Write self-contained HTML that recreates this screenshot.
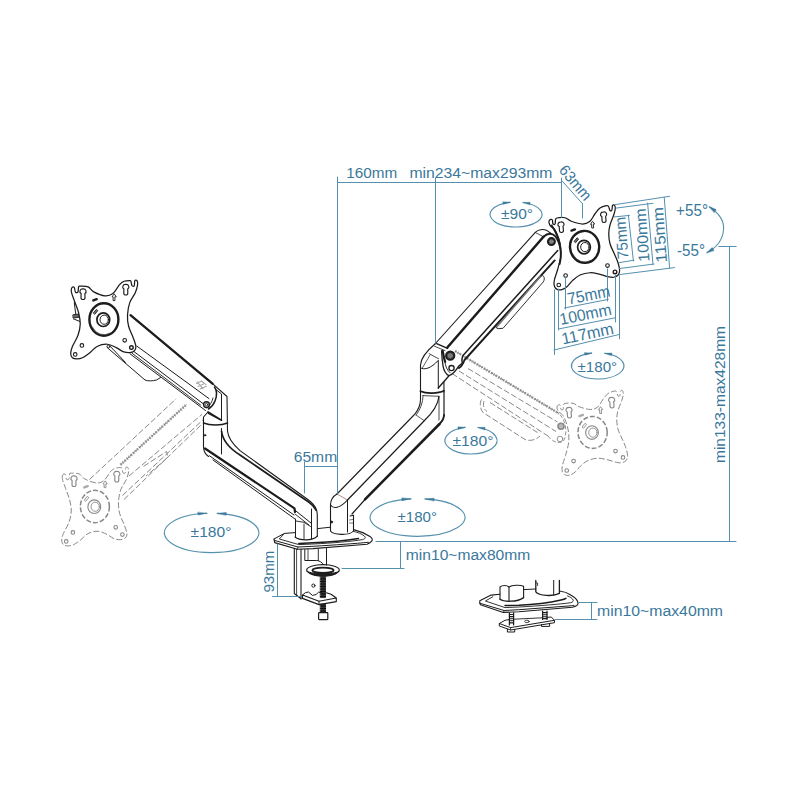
<!DOCTYPE html>
<html lang="en"><head><meta charset="utf-8"><title>Dual monitor arm dimensions</title>
<style>
html,body{margin:0;padding:0;background:#fff;}
body{width:800px;height:800px;overflow:hidden;}
svg{display:block;}
svg text{font-family:"Liberation Sans",sans-serif;}
</style></head><body>
<svg width="800" height="800" viewBox="0 0 800 800" stroke-linecap="round" stroke-linejoin="round">
<rect x="0" y="0" width="800" height="800" fill="#ffffff"/>
<g id="ghost">
<line x1="89.5" y1="479.5" x2="176.1" y2="398.8" stroke="#888888" stroke-width="1.0" stroke-dasharray="6 2.4" stroke-linecap="butt"/>
<line x1="120.5" y1="464.8" x2="186.5" y2="404.5" stroke="#a4a4a4" stroke-width="2.8" stroke-dasharray="1.5 1.3" stroke-linecap="butt"/>
<line x1="120.5" y1="464.8" x2="186.5" y2="404.5" stroke="#7a7a7a" stroke-width="1.0" stroke-dasharray="3 1.2" stroke-linecap="butt"/>
<line x1="129" y1="476" x2="202.1" y2="414.3" stroke="#888888" stroke-width="1.0" stroke-dasharray="6 2.4" stroke-linecap="butt"/>
<line x1="122.5" y1="495.5" x2="203.7" y2="419.1" stroke="#888888" stroke-width="1.0" stroke-dasharray="6 2.4" stroke-linecap="butt"/>
<line x1="124" y1="499.5" x2="201" y2="425" stroke="#888888" stroke-width="1.0" stroke-dasharray="6 2.4" stroke-linecap="butt"/>
<path d="M143.6,466.3 L166.4,451.6 C168,454 167.5,457.5 165,460 L146,476" stroke="#888888" stroke-width="1.0" fill="none" stroke-dasharray="6 2.4" stroke-linecap="butt"/>
<line x1="455" y1="351" x2="559" y2="413.5" stroke="#a4a4a4" stroke-width="2.8" stroke-dasharray="1.5 1.3" stroke-linecap="butt"/>
<line x1="455" y1="351" x2="559" y2="413.5" stroke="#7a7a7a" stroke-width="1.0" stroke-dasharray="3 1.2" stroke-linecap="butt"/>
<line x1="452" y1="373.5" x2="548" y2="436" stroke="#888888" stroke-width="1.0" stroke-dasharray="6 2.4" stroke-linecap="butt"/>
<line x1="459" y1="371" x2="556" y2="431.5" stroke="#888888" stroke-width="1.0" stroke-dasharray="6 2.4" stroke-linecap="butt"/>
<line x1="468" y1="368.5" x2="557.5" y2="422" stroke="#888888" stroke-width="1.0" stroke-dasharray="6 2.4" stroke-linecap="butt"/>
<path d="M481.5,399.5 C479.5,403 480,409 483,412.5 L525,439.5 C530,441.5 536,440 540,436" stroke="#888888" stroke-width="1.0" fill="none" stroke-dasharray="6 2.4" stroke-linecap="butt"/>
<path d="M484,401 C482.5,405 484,409.5 487,411.5 M490,402.5 L537.5,432.5" stroke="#888888" stroke-width="1.0" fill="none" stroke-dasharray="6 2.4" stroke-linecap="butt"/>
<circle cx="561" cy="426.3" r="3" stroke="#888888" stroke-width="1.6" fill="#bbb"/>
<circle cx="560" cy="439" r="2.8" stroke="#888888" stroke-width="0.9" fill="none"/>
<path d="M548,436 C552,441.5 558,444 563,441.5 C566,438 566.5,430 565,424 C563.5,419 560.5,415 559,413.5" stroke="#888888" stroke-width="0.9" fill="none" stroke-dasharray="4 2" stroke-linecap="butt"/>
</g>
<g id="arms">
<path d="M107,347.3 L110,350 L145,380 C147.5,381.3 153,381 156.5,380 L160.5,377.6" stroke="#1c1c1c" stroke-width="1.0" fill="none" />
<path d="M110.2,346.5 L113,349.2 L125.5,362.5" stroke="#1c1c1c" stroke-width="1.0" fill="none" />
<circle cx="108.5" cy="346.4" r="1.4" stroke="#1c1c1c" stroke-width="0.9" fill="none" />
<path d="M130.5,315.2 L212.5,383.7" stroke="#1c1c1c" stroke-width="2.3" fill="none" />
<path d="M137,346.2 L209,398.6" stroke="#1c1c1c" stroke-width="1.0" fill="none" />
<path d="M134.5,352 L203,403.6" stroke="#1c1c1c" stroke-width="1.0" fill="none" />
<path d="M132,353.2 L200.5,405" stroke="#1c1c1c" stroke-width="0.9" fill="none" />
<path d="M130,353.8 L205.5,410.5" stroke="#1c1c1c" stroke-width="1.0" fill="none" />
<path d="M196.5,383.5 L201.5,381 L206,384.6 M198,386.5 L203.5,384 M200,389 L206.5,386.2 M197,381.8 L203,388.6" stroke="#a8a8a8" stroke-width="1.1" fill="none" />
<path d="M212.5,383.7 L227,396.5 L227.5,431 C228,438 233,444.3 240,450.6 L307.5,499.3 C313.5,503.5 317.3,508.5 317.3,514.5 L317.3,536" stroke="#1c1c1c" stroke-width="1.1" fill="none" />
<path d="M214.5,387 C217,390.5 217,396 215,401 C213.5,404.8 211,407.5 208.5,409" stroke="#1c1c1c" stroke-width="1.5" fill="none" />
<path d="M213,398 C212,402 210,405.5 207,408" stroke="#1c1c1c" stroke-width="0.9" fill="none" />
<circle cx="206.5" cy="404.6" r="2.9" stroke="#1c1c1c" stroke-width="1.4" fill="none" />
<circle cx="206.5" cy="404.6" r="1.3" stroke="#1c1c1c" stroke-width="0.9" fill="none" />
<path d="M216.5,390 L221.5,394 L221.5,420.5" stroke="#1c1c1c" stroke-width="1.0" fill="none" />
<path d="M208,412 L221.5,420.2 L208.6,413.2 Z" stroke="#1c1c1c" stroke-width="1.6" fill="none" />
<path d="M208,412 L203.5,417 L203.5,447 C203.7,451 205.5,454.5 208.5,456.5" stroke="#1c1c1c" stroke-width="1.1" fill="none" />
<path d="M203.5,423 C210,425.6 221,425.8 227.5,423" stroke="#1c1c1c" stroke-width="1.6" fill="none" />
<circle cx="205" cy="435.3" r="0.8" stroke="#1c1c1c" stroke-width="0.8" fill="#1c1c1c" />
<path d="M221.5,428.5 L221.5,454" stroke="#1c1c1c" stroke-width="1.0" fill="none" />
<path d="M221.5,431 C222.5,440 228,447.5 240,455 L309,502.3 C312,504.4 314.5,507 316,510" stroke="#1c1c1c" stroke-width="1.7" fill="none" />
<path d="M205,448.5 L294.5,508.3 L295,512" stroke="#1c1c1c" stroke-width="2.2" fill="none" />
<path d="M209.5,455.8 L294,515" stroke="#1c1c1c" stroke-width="1.0" fill="none" />
<path d="M213,460 L295,519" stroke="#1c1c1c" stroke-width="1.0" fill="none" />
<path d="M295,510.3 L311,523" stroke="#1c1c1c" stroke-width="1.0" fill="none" />
<path d="M295,514 L309,525" stroke="#1c1c1c" stroke-width="0.9" fill="none" />
<path d="M311.5,509 L311.5,539" stroke="#1c1c1c" stroke-width="1.0" fill="none" />
<path d="M295.5,519 L295.5,537" stroke="#1c1c1c" stroke-width="1.0" fill="none" />
<path d="M304,524 L304,539" stroke="#1c1c1c" stroke-width="0.9" fill="none" />
<path d="M296,521 L304,522.3 L310.5,526.5" stroke="#1c1c1c" stroke-width="0.9" fill="none" />
<path d="M295,537 C299,540.5 312,541.5 317.5,536" stroke="#1c1c1c" stroke-width="1.1" fill="none" />
<path d="M337,494 C333.5,496 330.5,500 330.5,505 L330.5,531 C333,535 349,536 353.5,531 L353.5,515.3 L350,516" stroke="#1c1c1c" stroke-width="1.1" fill="none" />
<path d="M330.5,505 C333,509 340,508.5 347.5,500" stroke="#1c1c1c" stroke-width="1.1" fill="none" />
<path d="M337,494 L347.5,500" stroke="#8a5a50" stroke-width="0.7" fill="none" />
<path d="M347.5,500 L347.5,532" stroke="#1c1c1c" stroke-width="1.0" fill="none" />
<circle cx="331.6" cy="522" r="1.0" stroke="#1c1c1c" stroke-width="0.8" fill="#1c1c1c" />
<path d="M349.5,520 L353.5,519.3 M349.5,523 L353.5,523" stroke="#1c1c1c" stroke-width="0.6" fill="none" />
<path d="M337,494 L414,415 C418,410.5 420.5,405 420.5,399.5 L420.5,365 C420.8,358.5 426,351.5 435,344" stroke="#1c1c1c" stroke-width="1.1" fill="none" />
<path d="M347.5,500 L424,421 C431,414.5 438,405.5 439,396.3" stroke="#1c1c1c" stroke-width="1.2" fill="none" />
<path d="M416,415 L424,420.5" stroke="#1c1c1c" stroke-width="0.7" fill="none" />
<path d="M423,395.5 C423,402 420.5,409.5 416,415" stroke="#1c1c1c" stroke-width="0.8" fill="none" />
<path d="M423,395.6 L439,396.3 L439,420" stroke="#1c1c1c" stroke-width="0.8" fill="none" />
<path d="M352,514 L365,499.5" stroke="#1c1c1c" stroke-width="1.2" fill="none" />
<path d="M365,499.3 L439.5,424" stroke="#1c1c1c" stroke-width="2.5" fill="none" />
<path d="M439.5,424 C442.5,421 444,418.5 444,415" stroke="#1c1c1c" stroke-width="1.9" fill="none" />
<path d="M444,415 L444,392" stroke="#1c1c1c" stroke-width="1.2" fill="none" />
<path d="M420.5,391.3 C426,393.8 438,393.8 444,390.8" stroke="#1c1c1c" stroke-width="1.8" fill="none" />
<path d="M444,392 L443.9,382" stroke="#1c1c1c" stroke-width="1.1" fill="none" />
<path d="M420.6,367.8 C424,370.3 431,368.6 438.3,360.3 L438.3,388.5" stroke="#1c1c1c" stroke-width="1.0" fill="none" />
<path d="M429.2,353.7 L438.6,358.8" stroke="#1c1c1c" stroke-width="0.8" fill="none" />
<path d="M422.6,367.6 L430,355" stroke="#1c1c1c" stroke-width="0.7" fill="none" />
<path d="M438.3,388 L448.8,376" stroke="#1c1c1c" stroke-width="1.3" fill="none" />
<path d="M436.7,343.7 L447.5,348.4" stroke="#1c1c1c" stroke-width="1.4" fill="none" />
<path d="M434.6,346.3 L445,350.6" stroke="#1c1c1c" stroke-width="0.8" fill="none" />
<path d="M441.6,351 C441.8,356 442.4,362 443.1,366.3 C443.8,370 446,374 448.8,375.6 C452.5,374.5 456,370.5 458.5,366.3 L463,362.5" stroke="#1c1c1c" stroke-width="1.3" fill="none" />
<path d="M442.6,350.5 C443.5,355 444,359 445.2,361.8" stroke="#1c1c1c" stroke-width="2.2" fill="none" />
<path d="M445,361.8 C445.3,366 447,370.5 450.3,373" stroke="#1c1c1c" stroke-width="0.9" fill="none" />
<circle cx="450.2" cy="355.7" r="4.2" stroke="#1c1c1c" stroke-width="1.9" fill="#444" />
<circle cx="450.2" cy="355.7" r="2.0" stroke="#8a8a8a" stroke-width="0.9" fill="#777" />
<circle cx="451.5" cy="368.1" r="2.6" stroke="#1c1c1c" stroke-width="1.3" fill="#fff" />
<path d="M435,344 L535.3,232.3 C538,229.6 543,228.6 547,230.6 L550.5,233" stroke="#1c1c1c" stroke-width="1.1" fill="none" />
<path d="M535.3,232.5 L543.5,236.8" stroke="#1c1c1c" stroke-width="0.8" fill="none" />
<path d="M447.3,347.5 L543.5,236.8" stroke="#1c1c1c" stroke-width="2.5" fill="none" />
<path d="M543.5,236.8 C546.5,234 550,233.2 553,234.5 C556.5,236.5 558.5,241 560,246.5 C561.3,251 561.8,256 561.3,261 L560,267.5" stroke="#1c1c1c" stroke-width="1.9" fill="none" />
<path d="M462.5,362.8 C461.5,361 461.8,358.5 463,355.5 L557.7,250.5" stroke="#1c1c1c" stroke-width="1.5" fill="none" />
<path d="M459,368 C461.5,366.5 463,364 464.5,360 L554.7,260.4" stroke="#1c1c1c" stroke-width="1.9" fill="none" />
<path d="M496.3,327.5 L540.6,276.2" stroke="#777" stroke-width="1.5" fill="none" />
<path d="M496.3,327.6 L498,328.7 L503,328.3 L543.2,282 C544.6,280 544.6,277.6 543.5,276.2 C542.7,275.3 541.5,275.3 540.6,276.2" stroke="#333" stroke-width="1.0" fill="none" />
<circle cx="551.4" cy="241.6" r="3.6" stroke="#1c1c1c" stroke-width="1.8" fill="#4a4a4a" />
<circle cx="551.4" cy="241.6" r="1.7" stroke="#8a8a8a" stroke-width="0.8" fill="#808080" />
<path d="M274,539 L284.5,533.4 L295.5,532.6" stroke="#1c1c1c" stroke-width="1.0" fill="none" />
<path d="M317.5,528.6 L330.5,527.2" stroke="#1c1c1c" stroke-width="1.0" fill="none" />
<path d="M353.5,529.6 C358,530.6 365,533.4 370,536.5 C372.6,538.2 372.8,540 371.5,541.4 C370.5,542.6 369,543.6 367,544.2 L313,548.6 L297.3,549.3 L274.7,542.6 L274,539" stroke="#1c1c1c" stroke-width="1.15" fill="none" />
<path d="M274.4,540.4 L298,547 L313,546.3 C335,545 355,543.6 368.5,542.3" stroke="#1c1c1c" stroke-width="1.0" fill="none" />
<path d="M284.5,533.4 L279.3,539 L298.8,544.6 L313,544 C333,543 352,541.4 362.5,539.6 C365,539 366,537.6 364.5,536.2 C362,534 358,532.3 353.5,531.4" stroke="#1c1c1c" stroke-width="0.9" fill="none" />
<path d="M298.8,543.4 L313,542.8 C330,541.8 348,540.2 358.5,538.4" stroke="#1c1c1c" stroke-width="1.5" fill="none" />
<path d="M298,547 L297.5,549.3" stroke="#1c1c1c" stroke-width="0.8" fill="none" />
<path d="M294.3,548.4 L294.3,593.5 L301,598.8" stroke="#1c1c1c" stroke-width="1.1" fill="none" />
<path d="M296.6,549 L296.6,595" stroke="#1c1c1c" stroke-width="0.8" fill="none" />
<path d="M301,549.4 L301,598.8" stroke="#1c1c1c" stroke-width="1.1" fill="none" />
<path d="M304.8,549.6 L304.8,560.5 L316.8,560.5 C319.5,560.8 322,562.2 323.5,564.6" stroke="#1c1c1c" stroke-width="1.0" fill="none" />
<path d="M308,549.6 L308,560.3" stroke="#1c1c1c" stroke-width="0.8" fill="none" />
<path d="M318.3,549 L318.3,560.6" stroke="#1c1c1c" stroke-width="0.9" fill="none" />
<path d="M326.5,548.6 L326.5,565" stroke="#1c1c1c" stroke-width="1.0" fill="none" />
<path d="M307.2,571.4 C309.5,574.6 315.5,576.2 323,576.2 C330.5,576.2 336.5,574.6 338.8,571.4 C336,573 330,573.6 323,573.6 C316,573.6 310,573 307.2,571.4 Z" stroke="#1c1c1c" stroke-width="1.0" fill="#2e2e2e" />
<ellipse cx="323" cy="569.9" rx="16.3" ry="5.2" stroke="#1c1c1c" stroke-width="1.2" fill="none" />
<ellipse cx="323" cy="570.3" rx="10.6" ry="2.7" stroke="#1c1c1c" stroke-width="1.9" fill="#fff" />
<path d="M320.6,576.6 L325.5,576.6 L325.5,597.6 L320.6,597.6 Z" stroke="#1c1c1c" stroke-width="0.7" fill="#333" />
<path d="M320.6,604 L325.5,604 L325.5,612.7 L320.6,612.7 Z" stroke="#1c1c1c" stroke-width="0.7" fill="#333" />
<path d="M320.6,579 h4.9 M320.6,581.5 h4.9 M320.6,584 h4.9 M320.6,586.5 h4.9 M320.6,589 h4.9 M320.6,591.5 h4.9 M320.6,594 h4.9 M320.6,596.5 h4.9 M320.6,606 h4.9 M320.6,608.5 h4.9 M320.6,611 h4.9" stroke="#0c0c0c" stroke-width="1.2" fill="none" />
<path d="M319.2,612.7 h8 q0.6,0 0.6,0.8 v5.2 q0,0.9 -0.8,0.9 h-7.6 q-0.8,0 -0.8,-0.9 v-5.2 q0,-0.8 0.6,-0.8 Z" stroke="#1c1c1c" stroke-width="1.2" fill="#fff" />
<path d="M302.5,595 L305.5,592.6 L308.5,592 L312.5,595.4 L316,594.6 L318.5,592.2 L321.4,592.6" stroke="#1c1c1c" stroke-width="1.0" fill="none" />
<path d="M326.4,592.8 L331,594.2 L336.3,598 L336.3,601.6 L319,604.6 L302.5,598.4 L302.5,595 L319,601.2 L336.3,598" stroke="#1c1c1c" stroke-width="1.15" fill="none" />
<path d="M319,601.2 L319,604.6" stroke="#1c1c1c" stroke-width="0.9" fill="none" />
<circle cx="313.4" cy="585.6" r="1.6" stroke="#1c1c1c" stroke-width="1.0" fill="none" />
<path d="M500,594.3 L491.1,595.1 L479.8,600.8 L479.8,603.2 L480.5,604.8 L503.3,612.4 L518.8,611.8 L572.4,607.3 C576,606.5 578.3,605 578,603.2 C578,600.5 575,597.5 570.8,595 C568,593 564,591.5 559.4,591" stroke="#1c1c1c" stroke-width="1.1" fill="none" />
<path d="M523.6,589.6 L535.8,589" stroke="#1c1c1c" stroke-width="1.0" fill="none" />
<path d="M479.8,603.2 L504.1,610.5 L518.8,609.7 L574,605.6" stroke="#1c1c1c" stroke-width="1.0" fill="none" />
<path d="M492.8,596.7 L485.4,601 L505,607.6 L518.8,607 C540,605.8 560,604.2 570.8,602.7 C573,602 573.6,600.8 573.2,600 C572,598 570,596.8 567.5,595.9" stroke="#1c1c1c" stroke-width="0.9" fill="none" />
<path d="M505,605.6 L518.8,605.3 C535,604.5 552,602 561,600 C563.5,599.5 565,599 565.9,598.3" stroke="#1c1c1c" stroke-width="1.5" fill="none" />
<path d="M504.1,610.5 L503.5,612.4" stroke="#1c1c1c" stroke-width="0.8" fill="none" />
<path d="M500,599.2 L500,587 C502,585 507,585 509,587 L509,600.3" stroke="#1c1c1c" stroke-width="1.1" fill="none" />
<path d="M509,587 C512,585 520,584.8 523.6,586.2 L523.6,597.6" stroke="#1c1c1c" stroke-width="1.1" fill="none" />
<path d="M500,599.2 C504,602 517,602.3 523.6,597.6" stroke="#1c1c1c" stroke-width="1.3" fill="none" />
<path d="M535.8,580.4 L535.8,591.8 C539,595.8 553,596.8 559.4,593.4 L559.4,580.4" stroke="#1c1c1c" stroke-width="1.3" fill="none" />
<path d="M553.7,580.4 L553.7,595.2" stroke="#1c1c1c" stroke-width="1.0" fill="none" />
<path d="M536.2,582.8 L537.6,583 L537.6,585.6" stroke="#1c1c1c" stroke-width="0.8" fill="none" />
<path d="M509.4,612.9 L509.4,625 M513.6,612.9 L513.6,625" stroke="#1c1c1c" stroke-width="1.2" fill="none" />
<path d="M509.4,614.5 h4.2 M509.4,616.6 h4.2 M509.4,618.7 h4.2 M509.4,620.8 h4.2 M509.4,622.9 h4.2" stroke="#1c1c1c" stroke-width="1.1" fill="none" />
<path d="M542.6,611 L542.6,619.4 M547,611 L547,619.4" stroke="#1c1c1c" stroke-width="1.2" fill="none" />
<path d="M542.6,612.6 h4.4 M542.6,614.7 h4.4 M542.6,616.8 h4.4 M542.6,618.6 h4.4" stroke="#1c1c1c" stroke-width="1.1" fill="none" />
<path d="M509,619.6 L505,620.3 L499.3,623.5 L499.3,626 L510.6,630 L554.5,622.7 L554.5,620.3 L551.3,617 L547,617.4" stroke="#1c1c1c" stroke-width="1.0" fill="none" />
<path d="M514,619.2 L542.3,617.8" stroke="#1c1c1c" stroke-width="0.9" fill="none" />
<path d="M499.3,623.5 L510.6,627.6 L554.5,620.3" stroke="#1c1c1c" stroke-width="1.0" fill="none" />
<path d="M510.6,627.6 L510.6,630" stroke="#1c1c1c" stroke-width="0.8" fill="none" />
<path d="M507.4,629.2 L507.4,632 L514.7,632 L514.7,629.6" stroke="#1c1c1c" stroke-width="1.0" fill="none" />
<path d="M541.5,624.6 L541.5,626.4 L549.6,626.4 L549.6,623.6" stroke="#1c1c1c" stroke-width="1.0" fill="none" />
<ellipse cx="526.9" cy="621.4" rx="2.3" ry="1.2" stroke="#1c1c1c" stroke-width="0.8" fill="none" />
<path d="M74.3,302.5 C74.6,306 75.2,310 75.8,314 M73.4,318.8 L79.6,321.4" stroke="#1c1c1c" stroke-width="1.0" fill="none" />
<path d="M73.2,314.8 L79.2,314 L79.5,317.2 L73.5,318 Z" stroke="#1c1c1c" stroke-width="0.9" fill="#666" />
<g transform="translate(0 0)" stroke="#1c1c1c" fill="none">
<path d="M71.25,289.70 C71.33,288.63 71.79,287.57 72.30,287.20 C72.81,286.83 73.77,286.65 74.30,287.50 C74.83,288.35 74.88,291.57 75.50,292.30 C76.12,293.03 77.48,292.80 78.00,291.90 C78.52,291.00 78.23,287.85 78.60,286.90 C78.98,285.95 78.67,286.20 80.25,286.20 C81.83,286.20 85.85,285.95 88.10,286.90 C90.35,287.85 90.93,290.40 93.75,291.90 C96.57,293.40 101.81,295.62 105.00,295.90 C108.19,296.18 110.47,295.48 112.90,293.60 C115.33,291.72 117.73,286.66 119.60,284.60 C121.47,282.54 122.41,281.92 124.10,281.25 C125.79,280.58 128.62,280.60 129.75,280.60 C130.88,280.60 130.53,280.39 130.90,281.25 C131.28,282.11 131.44,285.00 132.00,285.75 C132.56,286.50 133.78,286.59 134.25,285.75 C134.72,284.91 134.34,281.54 134.80,280.70 C135.26,279.86 136.53,280.05 137.00,280.70 C137.47,281.35 137.87,282.63 137.60,284.60 C137.33,286.57 136.71,289.50 135.40,292.50 C134.09,295.50 131.07,298.85 129.75,302.60 C128.43,306.35 127.69,311.06 127.50,315.00 C127.31,318.94 127.67,322.50 128.60,326.25 C129.53,330.00 131.88,334.12 133.10,337.50 C134.32,340.88 135.71,344.25 135.90,346.50 C136.09,348.75 135.28,349.97 134.25,351.00 C133.22,352.03 131.62,352.60 129.75,352.70 C127.88,352.80 125.25,352.45 123.00,351.60 C120.75,350.75 118.88,348.83 116.25,347.60 C113.62,346.38 110.44,344.43 107.25,344.25 C104.06,344.07 100.10,345.00 97.10,346.50 C94.10,348.00 91.68,351.38 89.25,353.25 C86.82,355.12 84.56,356.81 82.50,357.75 C80.44,358.69 78.58,358.90 76.90,358.90 C75.22,358.90 73.43,358.69 72.40,357.75 C71.37,356.81 70.70,355.12 70.70,353.25 C70.70,351.38 71.18,349.50 72.40,346.50 C73.62,343.50 76.69,339.00 78.00,335.25 C79.31,331.50 80.15,327.75 80.25,324.00 C80.35,320.25 79.54,316.50 78.60,312.75 C77.66,309.00 75.73,304.69 74.60,301.50 C73.47,298.31 72.36,295.57 71.80,293.60 C71.24,291.63 71.17,290.77 71.25,289.70Z" stroke-width="1.25" fill="#fff" />
<ellipse cx="103.9" cy="319.5" rx="14.5" ry="16.2" stroke-width="2.4" transform="rotate(0 103.9 319.5)" />
<path d="M92.4,327.0 A12.7,14.4 0 0 0 109.9,333.1" stroke-width="0.7" stroke="#444"/>
<ellipse cx="103.30000000000001" cy="319.7" rx="6.4" ry="6.8" stroke-width="1.7"/>
<ellipse cx="104.2" cy="319.7" rx="4.2" ry="4.6" stroke-width="1.0"/>
<circle cx="81.9" cy="345.4" r="1.8" stroke-width="1.1" fill="#fff"/>
<circle cx="75.2" cy="354.4" r="1.8" stroke-width="1.1" fill="#fff"/>
<circle cx="124.7" cy="340.3" r="1.8" stroke-width="1.1" fill="#fff"/>
<circle cx="131.4" cy="347.6" r="1.8" stroke-width="1.4" fill="#fff"/>
<path d="M81.10,293.40 C78.80,292.10 80.00,288.70 83.00,288.90 C86.00,288.70 87.20,292.10 84.90,293.40 L85.00,297.70 C85.00,300.10 81.00,300.10 81.00,297.70 Z" stroke-width="1.15" transform="rotate(0 83 294.3)"/>
<path d="M123.90,288.90 C121.60,287.60 122.80,284.20 125.80,284.40 C128.80,284.20 130.00,287.60 127.70,288.90 L127.80,293.20 C127.80,295.60 123.80,295.60 123.80,293.20 Z" stroke-width="1.15" transform="rotate(0 125.8 289.8)"/>
<path d="M114,294.20000000000005 l-1.9,2.6 h1 v3.8 h1.8 v-3.8 h1 Z" stroke-width="0.9" transform="rotate(0 114 297.6)"/>
<path d="M93.30000000000001,300.40000000000003 l3.4,-1.2" stroke-width="2.4" stroke="#1c1c1c"/>
<path d="M93.5,312.8 l2.8,-3.4 l1.5,1.2 l-2.8,3.4 Z" stroke-width="0.9" fill="#777"/>
</g>
<g transform="translate(0 0)" stroke="#1c1c1c" fill="none">
<path d="M549.00,222.60 C548.82,221.58 549.08,220.65 549.50,220.10 C549.92,219.55 550.98,219.22 551.50,219.30 C552.02,219.38 552.40,219.93 552.60,220.60 C552.80,221.27 552.48,222.65 552.70,223.30 C552.92,223.95 553.48,224.45 553.90,224.50 C554.32,224.55 554.93,224.38 555.20,223.60 C555.47,222.82 555.20,220.73 555.50,219.80 C555.80,218.87 555.42,218.34 557.00,218.00 C558.58,217.66 562.62,217.21 565.00,217.75 C567.38,218.29 568.33,220.21 571.25,221.25 C574.17,222.29 579.38,224.00 582.50,224.00 C585.62,224.00 587.92,222.96 590.00,221.25 C592.08,219.54 593.33,215.94 595.00,213.75 C596.67,211.56 598.12,209.46 600.00,208.10 C601.88,206.74 604.83,205.91 606.25,205.60 C607.67,205.29 607.88,205.42 608.50,206.25 C609.12,207.08 609.43,209.97 610.00,210.60 C610.57,211.22 611.48,210.83 611.90,210.00 C612.32,209.17 612.08,206.40 612.50,205.60 C612.92,204.80 613.94,204.67 614.40,205.20 C614.86,205.72 615.36,207.12 615.25,208.75 C615.14,210.38 614.62,212.29 613.75,215.00 C612.88,217.71 610.83,221.88 610.00,225.00 C609.17,228.12 608.75,230.62 608.75,233.75 C608.75,236.88 609.17,240.62 610.00,243.75 C610.83,246.88 612.50,249.58 613.75,252.50 C615.00,255.42 616.52,258.33 617.50,261.25 C618.48,264.17 619.50,267.71 619.60,270.00 C619.70,272.29 619.08,273.79 618.10,275.00 C617.12,276.21 615.31,276.93 613.75,277.25 C612.19,277.57 611.04,277.38 608.75,276.90 C606.46,276.42 603.12,275.09 600.00,274.40 C596.88,273.71 593.33,272.65 590.00,272.75 C586.67,272.85 582.92,273.69 580.00,275.00 C577.08,276.31 574.58,278.73 572.50,280.60 C570.42,282.48 569.17,284.78 567.50,286.25 C565.83,287.72 564.17,288.84 562.50,289.40 C560.83,289.96 558.85,290.12 557.50,289.60 C556.15,289.08 554.92,287.85 554.40,286.25 C553.88,284.65 553.88,282.71 554.40,280.00 C554.92,277.29 556.47,273.75 557.50,270.00 C558.53,266.25 560.08,261.25 560.60,257.50 C561.12,253.75 560.91,250.62 560.60,247.50 C560.29,244.38 559.68,241.67 558.75,238.75 C557.82,235.83 556.36,232.09 555.00,230.00 C553.64,227.91 551.60,227.43 550.60,226.20 C549.60,224.97 549.18,223.62 549.00,222.60Z" stroke-width="1.25" fill="#fff" />
<ellipse cx="584.6" cy="246.9" rx="14.6" ry="16.0" stroke-width="2.4" transform="rotate(-4 584.6 246.9)" />
<path d="M573.1,254.4 A12.8,14.2 0 0 0 590.6,260.5" stroke-width="0.7" stroke="#444"/>
<ellipse cx="584.0" cy="247.1" rx="6.4" ry="6.8" stroke-width="1.7"/>
<ellipse cx="584.9" cy="247.1" rx="4.2" ry="4.6" stroke-width="1.0"/>
<circle cx="565.6" cy="275.6" r="1.8" stroke-width="1.1" fill="#fff"/>
<circle cx="558.75" cy="285" r="1.8" stroke-width="1.1" fill="#fff"/>
<circle cx="607.5" cy="265.6" r="1.8" stroke-width="1.1" fill="#fff"/>
<circle cx="615" cy="271.9" r="1.8" stroke-width="1.4" fill="#fff"/>
<path d="M559.30,226.40 C557.00,225.10 558.20,221.70 561.20,221.90 C564.20,221.70 565.40,225.10 563.10,226.40 L563.20,230.70 C563.20,233.10 559.20,233.10 559.20,230.70 Z" stroke-width="1.15" transform="rotate(-4 561.2 227.3)"/>
<path d="M601.90,216.40 C599.60,215.10 600.80,211.70 603.80,211.90 C606.80,211.70 608.00,215.10 605.70,216.40 L605.80,220.70 C605.80,223.10 601.80,223.10 601.80,220.70 Z" stroke-width="1.15" transform="rotate(-4 603.8 217.3)"/>
<path d="M592.5,221.6 l-1.9,2.6 h1 v3.8 h1.8 v-3.8 h1 Z" stroke-width="0.9" transform="rotate(-4 592.5 225)"/>
<path d="M571.5,230.6 l3.4,-1.2" stroke-width="2.4" stroke="#1c1c1c"/>
<path d="M574.3000000000001,241.2 l2.8,-3.4 l1.5,1.2 l-2.8,3.4 Z" stroke-width="0.9" fill="#777"/>
</g>
<path d="M551.60,225.60 C552.17,226.50 553.83,228.68 555.00,231.00 C556.17,233.32 557.68,236.50 558.60,239.50 C559.52,242.50 560.15,246.00 560.50,249.00 C560.85,252.00 560.85,255.00 560.70,257.50 C560.55,260.00 559.78,262.92 559.60,264.00" stroke="#1c1c1c" stroke-width="1.9" fill="none" />
<g transform="translate(-9 187)" stroke="#888888" fill="none">
<path d="M71.25,289.70 C71.33,288.63 71.79,287.57 72.30,287.20 C72.81,286.83 73.77,286.65 74.30,287.50 C74.83,288.35 74.88,291.57 75.50,292.30 C76.12,293.03 77.48,292.80 78.00,291.90 C78.52,291.00 78.23,287.85 78.60,286.90 C78.98,285.95 78.67,286.20 80.25,286.20 C81.83,286.20 85.85,285.95 88.10,286.90 C90.35,287.85 90.93,290.40 93.75,291.90 C96.57,293.40 101.81,295.62 105.00,295.90 C108.19,296.18 110.47,295.48 112.90,293.60 C115.33,291.72 117.73,286.66 119.60,284.60 C121.47,282.54 122.41,281.92 124.10,281.25 C125.79,280.58 128.62,280.60 129.75,280.60 C130.88,280.60 130.53,280.39 130.90,281.25 C131.28,282.11 131.44,285.00 132.00,285.75 C132.56,286.50 133.78,286.59 134.25,285.75 C134.72,284.91 134.34,281.54 134.80,280.70 C135.26,279.86 136.53,280.05 137.00,280.70 C137.47,281.35 137.87,282.63 137.60,284.60 C137.33,286.57 136.71,289.50 135.40,292.50 C134.09,295.50 131.07,298.85 129.75,302.60 C128.43,306.35 127.69,311.06 127.50,315.00 C127.31,318.94 127.67,322.50 128.60,326.25 C129.53,330.00 131.88,334.12 133.10,337.50 C134.32,340.88 135.71,344.25 135.90,346.50 C136.09,348.75 135.28,349.97 134.25,351.00 C133.22,352.03 131.62,352.60 129.75,352.70 C127.88,352.80 125.25,352.45 123.00,351.60 C120.75,350.75 118.88,348.83 116.25,347.60 C113.62,346.38 110.44,344.43 107.25,344.25 C104.06,344.07 100.10,345.00 97.10,346.50 C94.10,348.00 91.68,351.38 89.25,353.25 C86.82,355.12 84.56,356.81 82.50,357.75 C80.44,358.69 78.58,358.90 76.90,358.90 C75.22,358.90 73.43,358.69 72.40,357.75 C71.37,356.81 70.70,355.12 70.70,353.25 C70.70,351.38 71.18,349.50 72.40,346.50 C73.62,343.50 76.69,339.00 78.00,335.25 C79.31,331.50 80.15,327.75 80.25,324.00 C80.35,320.25 79.54,316.50 78.60,312.75 C77.66,309.00 75.73,304.69 74.60,301.50 C73.47,298.31 72.36,295.57 71.80,293.60 C71.24,291.63 71.17,290.77 71.25,289.70Z" stroke-width="1.0" fill="#fff" stroke-dasharray="6 2.2" stroke-linecap="butt"/>
<ellipse cx="103.9" cy="319.5" rx="14.5" ry="16.2" stroke-width="1.5" transform="rotate(0 103.9 319.5)" stroke-dasharray="5 2" stroke-linecap="butt"/>
<ellipse cx="103.30000000000001" cy="319.7" rx="6.4" ry="6.8" stroke-width="1.1"/>
<ellipse cx="104.2" cy="319.7" rx="4.2" ry="4.6" stroke-width="0.9"/>
<circle cx="81.9" cy="345.4" r="1.8" stroke-width="1.1" fill="#fff"/>
<circle cx="75.2" cy="354.4" r="1.8" stroke-width="1.1" fill="#fff"/>
<circle cx="124.7" cy="340.3" r="1.8" stroke-width="1.1" fill="#fff"/>
<circle cx="131.4" cy="347.6" r="1.8" stroke-width="1.1" fill="#fff"/>
<path d="M81.10,293.40 C78.80,292.10 80.00,288.70 83.00,288.90 C86.00,288.70 87.20,292.10 84.90,293.40 L85.00,297.70 C85.00,300.10 81.00,300.10 81.00,297.70 Z" stroke-width="1.15" transform="rotate(0 83 294.3)"/>
<path d="M123.90,288.90 C121.60,287.60 122.80,284.20 125.80,284.40 C128.80,284.20 130.00,287.60 127.70,288.90 L127.80,293.20 C127.80,295.60 123.80,295.60 123.80,293.20 Z" stroke-width="1.15" transform="rotate(0 125.8 289.8)"/>
<path d="M114,294.20000000000005 l-1.9,2.6 h1 v3.8 h1.8 v-3.8 h1 Z" stroke-width="0.9" transform="rotate(0 114 297.6)"/>
<path d="M93.30000000000001,300.40000000000003 l3.4,-1.2" stroke-width="2.4" stroke="#aaa"/>
<path d="M93.5,312.8 l2.8,-3.4 l1.5,1.2 l-2.8,3.4 Z" stroke-width="0.9" fill="none"/>
</g>
<g transform="translate(8 185.5)" stroke="#888888" fill="none">
<path d="M549.00,222.60 C548.82,221.58 549.08,220.65 549.50,220.10 C549.92,219.55 550.98,219.22 551.50,219.30 C552.02,219.38 552.40,219.93 552.60,220.60 C552.80,221.27 552.48,222.65 552.70,223.30 C552.92,223.95 553.48,224.45 553.90,224.50 C554.32,224.55 554.93,224.38 555.20,223.60 C555.47,222.82 555.20,220.73 555.50,219.80 C555.80,218.87 555.42,218.34 557.00,218.00 C558.58,217.66 562.62,217.21 565.00,217.75 C567.38,218.29 568.33,220.21 571.25,221.25 C574.17,222.29 579.38,224.00 582.50,224.00 C585.62,224.00 587.92,222.96 590.00,221.25 C592.08,219.54 593.33,215.94 595.00,213.75 C596.67,211.56 598.12,209.46 600.00,208.10 C601.88,206.74 604.83,205.91 606.25,205.60 C607.67,205.29 607.88,205.42 608.50,206.25 C609.12,207.08 609.43,209.97 610.00,210.60 C610.57,211.22 611.48,210.83 611.90,210.00 C612.32,209.17 612.08,206.40 612.50,205.60 C612.92,204.80 613.94,204.67 614.40,205.20 C614.86,205.72 615.36,207.12 615.25,208.75 C615.14,210.38 614.62,212.29 613.75,215.00 C612.88,217.71 610.83,221.88 610.00,225.00 C609.17,228.12 608.75,230.62 608.75,233.75 C608.75,236.88 609.17,240.62 610.00,243.75 C610.83,246.88 612.50,249.58 613.75,252.50 C615.00,255.42 616.52,258.33 617.50,261.25 C618.48,264.17 619.50,267.71 619.60,270.00 C619.70,272.29 619.08,273.79 618.10,275.00 C617.12,276.21 615.31,276.93 613.75,277.25 C612.19,277.57 611.04,277.38 608.75,276.90 C606.46,276.42 603.12,275.09 600.00,274.40 C596.88,273.71 593.33,272.65 590.00,272.75 C586.67,272.85 582.92,273.69 580.00,275.00 C577.08,276.31 574.58,278.73 572.50,280.60 C570.42,282.48 569.17,284.78 567.50,286.25 C565.83,287.72 564.17,288.84 562.50,289.40 C560.83,289.96 558.85,290.12 557.50,289.60 C556.15,289.08 554.92,287.85 554.40,286.25 C553.88,284.65 553.88,282.71 554.40,280.00 C554.92,277.29 556.47,273.75 557.50,270.00 C558.53,266.25 560.08,261.25 560.60,257.50 C561.12,253.75 560.91,250.62 560.60,247.50 C560.29,244.38 559.68,241.67 558.75,238.75 C557.82,235.83 556.36,232.09 555.00,230.00 C553.64,227.91 551.60,227.43 550.60,226.20 C549.60,224.97 549.18,223.62 549.00,222.60Z" stroke-width="1.0" fill="#fff" stroke-dasharray="6 2.2" stroke-linecap="butt"/>
<ellipse cx="584.6" cy="246.9" rx="14.6" ry="16.0" stroke-width="1.5" transform="rotate(-4 584.6 246.9)" stroke-dasharray="5 2" stroke-linecap="butt"/>
<ellipse cx="584.0" cy="247.1" rx="6.4" ry="6.8" stroke-width="1.1"/>
<ellipse cx="584.9" cy="247.1" rx="4.2" ry="4.6" stroke-width="0.9"/>
<circle cx="565.6" cy="275.6" r="1.8" stroke-width="1.1" fill="#fff"/>
<circle cx="558.75" cy="285" r="1.8" stroke-width="1.1" fill="#fff"/>
<circle cx="607.5" cy="265.6" r="1.8" stroke-width="1.1" fill="#fff"/>
<circle cx="615" cy="271.9" r="1.8" stroke-width="1.1" fill="#fff"/>
<path d="M559.30,226.40 C557.00,225.10 558.20,221.70 561.20,221.90 C564.20,221.70 565.40,225.10 563.10,226.40 L563.20,230.70 C563.20,233.10 559.20,233.10 559.20,230.70 Z" stroke-width="1.15" transform="rotate(-4 561.2 227.3)"/>
<path d="M601.90,216.40 C599.60,215.10 600.80,211.70 603.80,211.90 C606.80,211.70 608.00,215.10 605.70,216.40 L605.80,220.70 C605.80,223.10 601.80,223.10 601.80,220.70 Z" stroke-width="1.15" transform="rotate(-4 603.8 217.3)"/>
<path d="M592.5,221.6 l-1.9,2.6 h1 v3.8 h1.8 v-3.8 h1 Z" stroke-width="0.9" transform="rotate(-4 592.5 225)"/>
<path d="M571.5,230.6 l3.4,-1.2" stroke-width="2.4" stroke="#aaa"/>
<path d="M574.3000000000001,241.2 l2.8,-3.4 l1.5,1.2 l-2.8,3.4 Z" stroke-width="0.9" fill="none"/>
</g>
</g>
<g id="dims">
<line x1="337.5" y1="177" x2="337.5" y2="493.5" stroke="#5590ae" stroke-width="1" />
<line x1="337.5" y1="182.5" x2="561.5" y2="182.5" stroke="#5590ae" stroke-width="1" />
<line x1="435.5" y1="178" x2="435.5" y2="343" stroke="#5590ae" stroke-width="1" />
<line x1="561.5" y1="178" x2="561.5" y2="217.5" stroke="#5590ae" stroke-width="1" />
<line x1="561.7" y1="180.5" x2="582.5" y2="203.8" stroke="#5590ae" stroke-width="1" />
<line x1="582.5" y1="203.8" x2="582.5" y2="218" stroke="#5590ae" stroke-width="1" />
<text x="346.2" y="178" font-size="15.5" fill="#3a789b" textLength="51" lengthAdjust="spacingAndGlyphs" >160mm</text>
<text x="409.4" y="178" font-size="15.5" fill="#3a789b" textLength="143" lengthAdjust="spacingAndGlyphs" >min234~max293mm</text>
<text x="558.2" y="170.4" font-size="15.5" fill="#3a789b" textLength="41" lengthAdjust="spacingAndGlyphs" transform="rotate(50 558.2 170.4)" >63mm</text>
<line x1="304.5" y1="462" x2="304.5" y2="493" stroke="#5590ae" stroke-width="1" />
<line x1="304.5" y1="466.5" x2="337.5" y2="466.5" stroke="#5590ae" stroke-width="1" />
<text x="293.7" y="461.6" font-size="15.5" fill="#3a789b" textLength="43.5" lengthAdjust="spacingAndGlyphs" >65mm</text>
<line x1="277.5" y1="544" x2="277.5" y2="596.5" stroke="#5590ae" stroke-width="1" />
<line x1="272.5" y1="596.5" x2="300.5" y2="596.5" stroke="#5590ae" stroke-width="1" />
<text x="273.6" y="592.6" font-size="15.5" fill="#3a789b" textLength="42" lengthAdjust="spacingAndGlyphs" transform="rotate(-90 273.6 592.6)" >93mm</text>
<line x1="376" y1="541.5" x2="736" y2="541.5" stroke="#5590ae" stroke-width="1" />
<line x1="400.5" y1="541.5" x2="400.5" y2="568.5" stroke="#5590ae" stroke-width="1" />
<line x1="342" y1="568.5" x2="404" y2="568.5" stroke="#5590ae" stroke-width="1" />
<text x="405.8" y="560.4" font-size="15.5" fill="#3a789b" textLength="124.5" lengthAdjust="spacingAndGlyphs" >min10~max80mm</text>
<line x1="729.5" y1="246.5" x2="729.5" y2="541.5" stroke="#5590ae" stroke-width="1" />
<line x1="718.8" y1="246.5" x2="736.2" y2="246.5" stroke="#5590ae" stroke-width="1" />
<text x="725" y="463" font-size="15.5" fill="#3a789b" textLength="137" lengthAdjust="spacingAndGlyphs" transform="rotate(-90 725 463)" >min133-max428mm</text>
<line x1="591.5" y1="602.5" x2="591.5" y2="619.5" stroke="#5590ae" stroke-width="1" />
<line x1="579" y1="602.5" x2="597" y2="602.5" stroke="#5590ae" stroke-width="1" />
<line x1="555.5" y1="619.5" x2="597" y2="619.5" stroke="#5590ae" stroke-width="1" />
<text x="597" y="615.6" font-size="15.5" fill="#3a789b" textLength="126" lengthAdjust="spacingAndGlyphs" >min10~max40mm</text>
<text x="676" y="216.4" font-size="16.2" fill="#3a789b" textLength="32" lengthAdjust="spacingAndGlyphs" >+55°</text>
<text x="677" y="255.8" font-size="16.2" fill="#3a789b" textLength="28" lengthAdjust="spacingAndGlyphs" >-55°</text>
<path d="M709.5,207 C720,214 724.5,222 723.5,230 C722.5,240 716,248 707,252.5" stroke="#5590ae" stroke-width="1.1" fill="none" />
<path d="M709.2,206.6 L716.2,209.6 L714.2,212.4 Z" stroke="#3a789b" stroke-width="0.4" fill="#3a789b" />
<path d="M706.8,252.8 L712.2,247.5 L713.9,250.4 Z" stroke="#3a789b" stroke-width="0.4" fill="#3a789b" />
<line x1="615.25" y1="204.6" x2="669.5" y2="196.3" stroke="#5590ae" stroke-width="1" />
<line x1="616.1" y1="208.1" x2="652.9" y2="203.3" stroke="#5590ae" stroke-width="1" />
<line x1="614.4" y1="216.9" x2="629.5" y2="215.4" stroke="#5590ae" stroke-width="1" />
<line x1="619.3" y1="262.6" x2="634" y2="260.2" stroke="#5590ae" stroke-width="1" />
<line x1="619.3" y1="268.6" x2="654" y2="264" stroke="#5590ae" stroke-width="1" />
<line x1="619.3" y1="274.6" x2="674.5" y2="267.6" stroke="#5590ae" stroke-width="1" />
<line x1="628.4" y1="215.2" x2="633.4" y2="261" stroke="#5590ae" stroke-width="1" />
<line x1="647.6" y1="203" x2="653" y2="264.8" stroke="#5590ae" stroke-width="1" />
<line x1="664.25" y1="197.5" x2="669.6" y2="268" stroke="#5590ae" stroke-width="1" />
<text x="628.4" y="258.8" font-size="15.5" fill="#3a789b" textLength="42.5" lengthAdjust="spacingAndGlyphs" transform="rotate(-94 628.4 258.8)" >75mm</text>
<text x="649.4" y="261.4" font-size="15.5" fill="#3a789b" textLength="53.5" lengthAdjust="spacingAndGlyphs" transform="rotate(-94 649.4 261.4)" >100mm</text>
<text x="666.9" y="262.2" font-size="15.5" fill="#3a789b" textLength="55.5" lengthAdjust="spacingAndGlyphs" transform="rotate(-94 666.9 262.2)" >115mm</text>
<line x1="554.5" y1="289.8" x2="554.5" y2="354.5" stroke="#5590ae" stroke-width="1" />
<line x1="558.5" y1="289" x2="558.5" y2="330" stroke="#5590ae" stroke-width="1" />
<line x1="565.5" y1="277.5" x2="565.5" y2="309" stroke="#5590ae" stroke-width="1" />
<line x1="607.5" y1="268.8" x2="607.5" y2="301" stroke="#5590ae" stroke-width="1" />
<line x1="615.5" y1="275" x2="615.5" y2="322" stroke="#5590ae" stroke-width="1" />
<line x1="619.5" y1="275.8" x2="619.5" y2="338.8" stroke="#5590ae" stroke-width="1" />
<line x1="564.5" y1="308" x2="608.3" y2="299.4" stroke="#5590ae" stroke-width="1" />
<line x1="558.4" y1="329" x2="615.3" y2="317.8" stroke="#5590ae" stroke-width="1" />
<line x1="554" y1="350" x2="619.6" y2="334.4" stroke="#5590ae" stroke-width="1" />
<text x="568.6" y="304.6" font-size="16.3" fill="#3a789b" textLength="43" lengthAdjust="spacingAndGlyphs" transform="rotate(-11 568.6 304.6)" >75mm</text>
<text x="560.8" y="325" font-size="16.3" fill="#3a789b" textLength="52.5" lengthAdjust="spacingAndGlyphs" transform="rotate(-11.5 560.8 325)" >100mm</text>
<text x="562.7" y="344.6" font-size="16.3" fill="#3a789b" textLength="53" lengthAdjust="spacingAndGlyphs" transform="rotate(-12 562.7 344.6)" >117mm</text>
<path d="M217.28,513.34 A47.3,19.7 0 1 1 206.87,513.30" stroke="#5590ae" stroke-width="1.15" fill="none" />
<path d="M206.87,513.30 L197.93,514.97 L197.82,512.38 Z" stroke="#3a789b" stroke-width="0.4" fill="#3a789b" />
<path d="M217.28,513.34 L226.33,512.50 L226.20,515.09 Z" stroke="#3a789b" stroke-width="0.4" fill="#3a789b" />
<text x="190.6" y="537.3" font-size="15.5" fill="#3a789b" textLength="40.8" lengthAdjust="spacingAndGlyphs" >±180°</text>
<path d="M425.10,498.94 A47.5,18.8 0 1 1 410.85,498.89" stroke="#5590ae" stroke-width="1.15" fill="none" />
<path d="M410.85,498.89 L401.94,500.69 L401.79,498.09 Z" stroke="#3a789b" stroke-width="0.4" fill="#3a789b" />
<path d="M425.10,498.94 L434.16,498.22 L434.00,500.82 Z" stroke="#3a789b" stroke-width="0.4" fill="#3a789b" />
<text x="397.5" y="522" font-size="15.5" fill="#3a789b" textLength="39.5" lengthAdjust="spacingAndGlyphs" >±180°</text>
<path d="M478.02,427.50 A26,13.5 0 1 1 465.02,427.36" stroke="#5590ae" stroke-width="1.15" fill="none" />
<path d="M465.02,427.36 L458.22,429.41 L457.93,427.02 Z" stroke="#3a789b" stroke-width="0.4" fill="#3a789b" />
<path d="M478.02,427.50 L485.12,427.32 L484.77,429.70 Z" stroke="#3a789b" stroke-width="0.4" fill="#3a789b" />
<text x="452.5" y="445.5" font-size="15.5" fill="#3a789b" textLength="41" lengthAdjust="spacingAndGlyphs" >±180°</text>
<path d="M604.80,353.29 A26.3,13.1 0 1 1 591.65,353.15" stroke="#5590ae" stroke-width="1.15" fill="none" />
<path d="M591.65,353.15 L584.84,355.16 L584.56,352.78 Z" stroke="#3a789b" stroke-width="0.4" fill="#3a789b" />
<path d="M604.80,353.29 L611.90,353.07 L611.57,355.44 Z" stroke="#3a789b" stroke-width="0.4" fill="#3a789b" />
<text x="577.6" y="372" font-size="15.5" fill="#3a789b" textLength="39.5" lengthAdjust="spacingAndGlyphs" >±180°</text>
<path d="M523.02,202.46 A26,12.5 0 1 1 510.02,202.34" stroke="#5590ae" stroke-width="1.15" fill="none" />
<path d="M510.02,202.34 L503.20,204.32 L502.93,201.93 Z" stroke="#3a789b" stroke-width="0.4" fill="#3a789b" />
<path d="M523.02,202.46 L530.12,202.21 L529.80,204.59 Z" stroke="#3a789b" stroke-width="0.4" fill="#3a789b" />
<text x="501" y="219" font-size="15.5" fill="#3a789b" textLength="32" lengthAdjust="spacingAndGlyphs" >±90°</text>
</g>
</svg>
</body></html>
